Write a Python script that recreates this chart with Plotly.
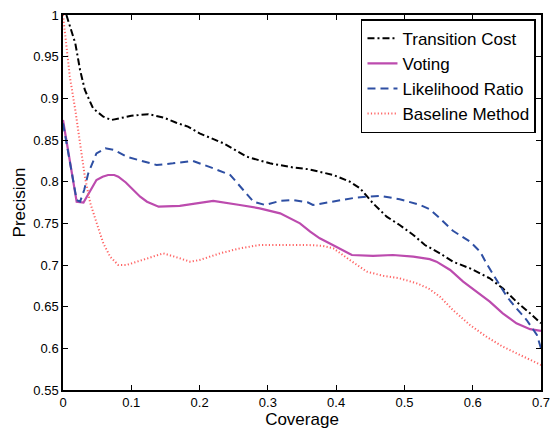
import plotly.graph_objects as go

# Transition Cost
tc_x = [0.005, 0.018, 0.025, 0.032, 0.044, 0.059, 0.071, 0.085, 0.1, 0.125, 0.147, 0.165, 0.183, 0.2, 0.235,
        0.269, 0.303, 0.337, 0.359, 0.396, 0.42, 0.435, 0.454, 0.474, 0.493, 0.513, 0.53, 0.552, 0.571,
        0.596, 0.625, 0.644, 0.664, 0.684, 0.7]
tc_y = [1.0, 0.966, 0.934, 0.91, 0.888, 0.878, 0.874, 0.876, 0.879, 0.881, 0.877, 0.871, 0.866, 0.858, 0.846,
        0.83, 0.822, 0.817, 0.815, 0.808, 0.800, 0.792, 0.774, 0.758, 0.748, 0.736, 0.724, 0.714, 0.704,
        0.696, 0.684, 0.672, 0.656, 0.642, 0.630]

# Voting
vo_x = [0.0, 0.02, 0.03, 0.04, 0.049, 0.058, 0.066, 0.075, 0.081, 0.092, 0.103, 0.113, 0.123, 0.14, 0.171,
        0.186, 0.22, 0.259, 0.288, 0.318, 0.337, 0.347, 0.362, 0.376, 0.4, 0.423, 0.454, 0.483, 0.513,
        0.537, 0.547, 0.567, 0.586, 0.606, 0.625, 0.644, 0.664, 0.684, 0.7]
vo_y = [0.874, 0.776, 0.775, 0.790, 0.802, 0.806, 0.808, 0.808, 0.806, 0.799, 0.790, 0.782, 0.776, 0.770, 0.771,
        0.773, 0.777, 0.772, 0.768, 0.762, 0.754, 0.750, 0.740, 0.732, 0.722, 0.712, 0.711, 0.712, 0.710,
        0.707, 0.704, 0.694, 0.680, 0.668, 0.656, 0.642, 0.630, 0.623, 0.621]

# Likelihood Ratio
lr_x = [0.0, 0.02, 0.025, 0.031, 0.037, 0.049, 0.062, 0.075, 0.093, 0.118, 0.137, 0.161, 0.19, 0.22, 0.245,
        0.264, 0.279, 0.296, 0.318, 0.337, 0.359, 0.366, 0.4, 0.43, 0.464, 0.493, 0.523, 0.537, 0.552,
        0.571, 0.596, 0.611, 0.62, 0.635, 0.65, 0.664, 0.679, 0.694, 0.7]
lr_y = [0.870, 0.778, 0.776, 0.790, 0.810, 0.834, 0.840, 0.838, 0.830, 0.824, 0.820, 0.822, 0.825, 0.816, 0.808,
        0.790, 0.776, 0.772, 0.777, 0.778, 0.775, 0.772, 0.777, 0.781, 0.783, 0.779, 0.772, 0.767, 0.756,
        0.741, 0.728, 0.716, 0.702, 0.682, 0.662, 0.648, 0.634, 0.616, 0.600]

# Baseline Method
bm_x = [0.0, 0.005, 0.01, 0.018, 0.025, 0.032, 0.04, 0.049, 0.059, 0.069, 0.081, 0.093, 0.108, 0.123, 0.147,
        0.171, 0.186, 0.2, 0.23, 0.259, 0.288, 0.332, 0.359, 0.38, 0.396, 0.42, 0.445, 0.469, 0.493,
        0.518, 0.535, 0.552, 0.571, 0.596, 0.62, 0.644, 0.669, 0.696, 0.7]
bm_y = [1.0, 0.966, 0.926, 0.886, 0.846, 0.806, 0.774, 0.750, 0.726, 0.710, 0.700, 0.700, 0.704, 0.708, 0.714,
        0.708, 0.704, 0.706, 0.714, 0.720, 0.724, 0.724, 0.724, 0.723, 0.720, 0.706, 0.692, 0.687, 0.684,
        0.678, 0.672, 0.662, 0.646, 0.628, 0.614, 0.602, 0.592, 0.582, 0.580]

x_ticks = [0, 0.1, 0.2, 0.3, 0.4, 0.5, 0.6, 0.7]
x_tick_labels = ["0", "0.1", "0.2", "0.3", "0.4", "0.5", "0.6", "0.7"]
y_ticks = [0.55, 0.6, 0.65, 0.7, 0.75, 0.8, 0.85, 0.9, 0.95, 1.0]
y_tick_labels = ["0.55", "0.6", "0.65", "0.7", "0.75", "0.8", "0.85", "0.9", "0.95", "1"]

FONT = "Liberation Sans, Arial, sans-serif"

fig = go.Figure()
fig.add_trace(go.Scatter(x=tc_x, y=tc_y, mode="lines", name="Transition Cost",
                         line=dict(color="black", width=2, dash="7px,3px,2px,3px")))
fig.add_trace(go.Scatter(x=vo_x, y=vo_y, mode="lines", name="Voting",
                         line=dict(color="#BC4BAE", width=2.2)))
fig.add_trace(go.Scatter(x=lr_x, y=lr_y, mode="lines", name="Likelihood Ratio",
                         line=dict(color="#2E4FA3", width=2, dash="8px,5px")))
fig.add_trace(go.Scatter(x=bm_x, y=bm_y, mode="lines", name="Baseline Method",
                         line=dict(color="#FF6464", width=2, dash="1.2px,2.2px")))

axis_common = dict(showline=True, linecolor="black", linewidth=1.5, mirror="ticks",
                   ticks="inside", ticklen=5, tickcolor="black", showgrid=False, zeroline=False,
                   automargin=False, ticklabeloverflow="allow",
                   tickfont=dict(family=FONT, size=13, color="black"))

fig.update_xaxes(range=[0, 0.7], tickvals=x_ticks, ticktext=x_tick_labels,
                 title=dict(text="Coverage", standoff=1,
                            font=dict(family=FONT, size=17, color="black")),
                 **axis_common)
fig.update_yaxes(range=[0.55, 1.0], tickvals=y_ticks, ticktext=y_tick_labels,
                 title=dict(text="Precision", standoff=3,
                            font=dict(family=FONT, size=17, color="black")),
                 **axis_common)

fig.update_layout(
    width=553, height=430,
    margin=dict(l=63, r=12, t=15, b=40, autoexpand=False),
    plot_bgcolor="white", paper_bgcolor="white",
    font=dict(family=FONT, color="black"),
    legend=dict(x=0.9895, y=0.989, xanchor="right", yanchor="top",
                bgcolor="white", bordercolor="black", borderwidth=1.5,
                font=dict(family=FONT, size=17, color="black"),
                tracegroupgap=0, itemwidth=30),
    showlegend=True,
)

# remove the default page margin so the figure sits at the window's top-left corner
fig.write_html("out.html", config={"displayModeBar": False},
               post_script="document.body.style.margin='0';")
